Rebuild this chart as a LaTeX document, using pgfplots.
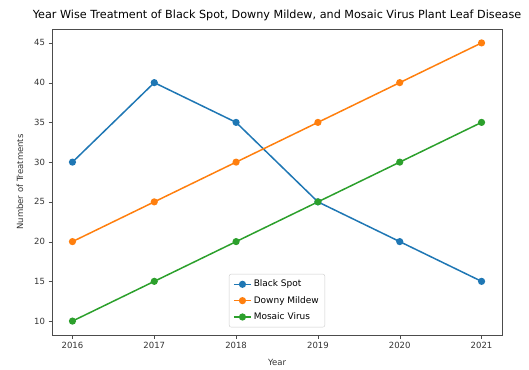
\documentclass[border=0pt]{standalone}
\usepackage{pgfplots}
\pgfplotsset{compat=1.18}
\usepackage{fontspec}
\setmainfont{DejaVu Sans}
\definecolor{c0}{HTML}{1F77B4}
\definecolor{c1}{HTML}{FF7F0E}
\definecolor{c2}{HTML}{2CA02C}
\begin{document}
\begin{tikzpicture}
\begin{axis}[
  scale only axis,
  width=450pt, height=306pt,
  xmin=2015.75, xmax=2021.25,
  ymin=8.25, ymax=46.75,
  xtick={2016,2017,2018,2019,2020,2021},
  ytick={10,15,20,25,30,35,40,45},
  xticklabel style={/pgf/number format/1000 sep={}},
  /pgf/number format/assume math mode=true,
  tick align=outside, tick pos=left,
  major tick length=3.5pt,
  tick style={black!70},
  axis line style={black!70},
  ticklabel style={font=\fontsize{8.5}{10}\selectfont, text=black!80},
  title={Year Wise Treatment of Black Spot, Downy Mildew, and Mosaic Virus Plant Leaf Disease},
  title style={font=\fontsize{11.2}{13}\selectfont, yshift=-1pt},
  xlabel={Year}, ylabel={Number of Treatments},
  label style={font=\fontsize{8.5}{10}\selectfont, text=black!80},
  xlabel style={yshift=-4pt},
  ylabel style={yshift=4pt},
  legend style={at={(0.5,0.025)}, anchor=south, font=\fontsize{9}{10}\selectfont,
    draw=black!20, rounded corners=2pt, row sep=4pt, inner sep=4pt},
  legend cell align=left,
  every axis plot/.append style={line width=1.5pt, mark=*, mark size=2.8pt},
]
\addplot[color=c0, mark options={fill=c0}] coordinates {(2016,30) (2017,40) (2018,35) (2019,25) (2020,20) (2021,15)};
\addlegendentry{Black Spot}
\addplot[color=c1, mark options={fill=c1}] coordinates {(2016,20) (2017,25) (2018,30) (2019,35) (2020,40) (2021,45)};
\addlegendentry{Downy Mildew}
\addplot[color=c2, mark options={fill=c2}] coordinates {(2016,10) (2017,15) (2018,20) (2019,25) (2020,30) (2021,35)};
\addlegendentry{Mosaic Virus}
\end{axis}
\useasboundingbox (current axis.south west) ++(-52pt,-34pt) rectangle ++(529pt,369pt);
\end{tikzpicture}
\end{document}
